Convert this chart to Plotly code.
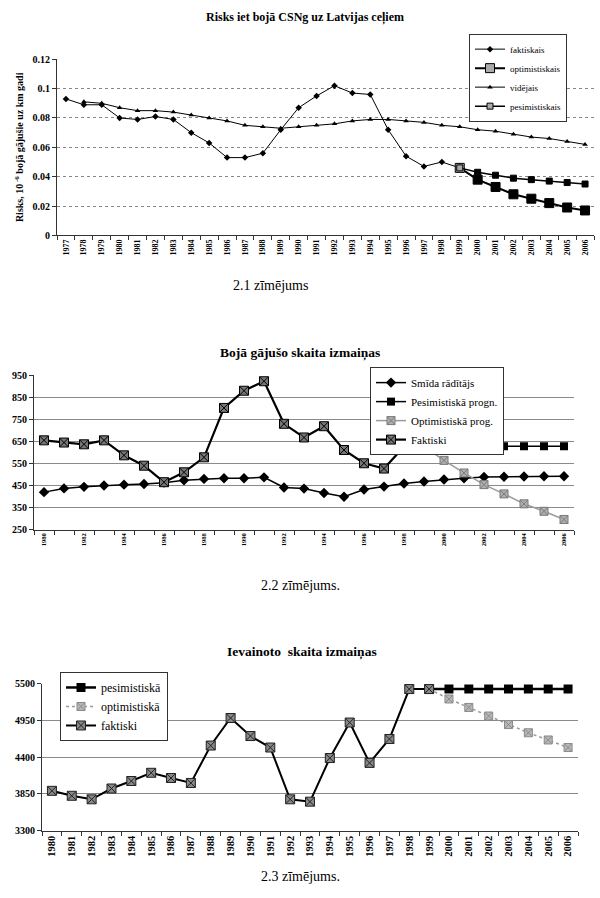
import plotly.graph_objects as go

# ---------------- Chart 1 data ----------------
years1 = [str(y) for y in range(1977, 2007)]
fakt1_years = [str(y) for y in range(1977, 2000)]
fakt1 = [0.093, 0.089, 0.089, 0.080, 0.079, 0.081, 0.079, 0.070, 0.063, 0.053,
         0.053, 0.056, 0.072, 0.087, 0.095, 0.102, 0.097, 0.096, 0.072, 0.054,
         0.047, 0.050, 0.046]
vid1_years = [str(y) for y in range(1978, 2007)]
vid1 = [0.091, 0.090, 0.087, 0.085, 0.085, 0.084, 0.082, 0.080, 0.078, 0.075,
        0.074, 0.073, 0.074, 0.075, 0.076, 0.078, 0.079, 0.079, 0.078, 0.077,
        0.075, 0.074, 0.072, 0.071, 0.069, 0.067, 0.066, 0.064, 0.062]
prog1_years = [str(y) for y in range(1999, 2007)]
pes1 = [0.046, 0.043, 0.041, 0.039, 0.038, 0.037, 0.036, 0.035]
opt1 = [0.046, 0.038, 0.033, 0.028, 0.025, 0.022, 0.019, 0.017]

# ---------------- Chart 2 data ----------------
years2 = [str(y) for y in range(1980, 2007)]
ticks2 = [y if int(y) % 2 == 0 else " " for y in years2]
smid2 = [420, 437, 444, 450, 454, 457, 463, 474, 480, 483, 483, 487, 441, 436,
         416, 399, 432, 445, 459, 468, 477, 483, 489, 490, 491, 492, 492]
fakt2_years = [str(y) for y in range(1980, 2000)]
fakt2 = [655, 645, 637, 655, 587, 540, 465, 510, 578, 802, 880, 923, 730, 668,
         719, 611, 551, 527, 626, 626]
prog2_years = [str(y) for y in range(1999, 2007)]
pes2 = [626, 627, 627, 628, 628, 628, 628, 628]
opt2 = [626, 564, 507, 454, 412, 367, 333, 296]

# ---------------- Chart 3 data ----------------
years3 = [str(y) for y in range(1980, 2007)]
fakt3_years = [str(y) for y in range(1980, 2000)]
fakt3 = [3894, 3820, 3767, 3929, 4041, 4164, 4086, 4012, 4572, 4984, 4714, 4542,
         3767, 3732, 4385, 4916, 4312, 4670, 5417, 5417]
prog3_years = [str(y) for y in range(1999, 2007)]
pes3 = [5417, 5417, 5417, 5417, 5417, 5417, 5417, 5417]
opt3 = [5417, 5269, 5142, 5014, 4886, 4763, 4655, 4542]

SERIF = "Liberation Serif"
H = 898.0
W = 600.0


def py(px):
    return 1 - px / H


def pxx(px):
    return px / W


fig = go.Figure()

# ----- Chart 1 traces -----
fig.add_trace(go.Scatter(x=fakt1_years, y=fakt1, name="faktiskais", mode="lines+markers",
                         line=dict(color="black", width=1),
                         marker=dict(symbol="diamond", size=5, color="black"),
                         xaxis="x", yaxis="y", legend="legend"))
fig.add_trace(go.Scatter(x=prog1_years, y=opt1, name="optimistiskais", mode="lines+markers",
                         line=dict(color="black", width=2),
                         marker=dict(symbol="square", size=9,
                                     color=["#aaaaaa"] + ["black"] * 7,
                                     line=dict(color="black", width=1)),
                         xaxis="x", yaxis="y", legend="legend"))
fig.add_trace(go.Scatter(x=vid1_years, y=vid1, name="vidējais", mode="lines+markers",
                         line=dict(color="black", width=1),
                         marker=dict(symbol="triangle-up", size=5, color="black"),
                         xaxis="x", yaxis="y", legend="legend"))
fig.add_trace(go.Scatter(x=prog1_years, y=pes1, name="pesimistiskais", mode="lines+markers",
                         line=dict(color="black", width=1.5),
                         marker=dict(symbol="square", size=6,
                                     color=["#aaaaaa"] + ["black"] * 7,
                                     line=dict(color="black", width=1)),
                         xaxis="x", yaxis="y", legend="legend"))

# ----- Chart 2 traces -----
fig.add_trace(go.Scatter(x=years2, y=smid2, name="Smīda rādītājs", mode="lines+markers",
                         line=dict(color="black", width=1.5),
                         marker=dict(symbol="diamond", size=8, color="black"),
                         xaxis="x2", yaxis="y2", legend="legend2"))
fig.add_trace(go.Scatter(x=prog2_years, y=pes2, name="Pesimistiskā progn.", mode="lines+markers",
                         line=dict(color="black", width=1.5),
                         marker=dict(symbol="square", size=8, color="black"),
                         xaxis="x2", yaxis="y2", legend="legend2"))
fig.add_trace(go.Scatter(x=prog2_years, y=opt2, name="Optimistiskā prog.", mode="lines+markers",
                         line=dict(color="#9a9a9a", width=1.5),
                         marker=dict(symbol="square-x", size=8, color="#b0b0b0",
                                     line=dict(color="#7a7a7a", width=1)),
                         xaxis="x2", yaxis="y2", legend="legend2"))
fig.add_trace(go.Scatter(x=fakt2_years, y=fakt2, name="Faktiski", mode="lines+markers",
                         line=dict(color="black", width=2.2),
                         marker=dict(symbol="square-x", size=9, color="#777777",
                                     line=dict(color="black", width=1)),
                         xaxis="x2", yaxis="y2", legend="legend2"))

# ----- Chart 3 traces -----
fig.add_trace(go.Scatter(x=prog3_years, y=pes3, name="pesimistiskā", mode="lines+markers",
                         line=dict(color="black", width=2.5),
                         marker=dict(symbol="square", size=9, color="black"),
                         xaxis="x3", yaxis="y3", legend="legend3"))
fig.add_trace(go.Scatter(x=prog3_years, y=opt3, name="optimistiskā", mode="lines+markers",
                         line=dict(color="#9a9a9a", width=1.5, dash="dot"),
                         marker=dict(symbol="square-x", size=8, color="#b8b8b8",
                                     line=dict(color="#8a8a8a", width=1)),
                         xaxis="x3", yaxis="y3", legend="legend3"))
fig.add_trace(go.Scatter(x=fakt3_years, y=fakt3, name="faktiski", mode="lines+markers",
                         line=dict(color="black", width=2),
                         marker=dict(symbol="square-x", size=9, color="#888888",
                                     line=dict(color="#222222", width=1)),
                         xaxis="x3", yaxis="y3", legend="legend3"))

axis_common = dict(showline=True, linecolor="#333333", linewidth=1, zeroline=False,
                   ticks="outside", ticklen=4, tickcolor="#333333")

legend_common = dict(bgcolor="white", bordercolor="#333333", borderwidth=1,
                     xanchor="left", yanchor="top", tracegroupgap=0,
                     itemwidth=30)

fig.update_layout(
    width=600, height=898, autosize=False,
    margin=dict(l=0, r=0, t=0, b=0),
    paper_bgcolor="white", plot_bgcolor="white",
    font=dict(family=SERIF, color="black"),
    # chart 1
    xaxis=dict(domain=[pxx(57), pxx(594)], anchor="y", type="category",
               categoryorder="array", categoryarray=years1,
               tickmode="array", tickvals=years1, ticktext=years1,
               tickson="boundaries", tickangle=-90, range=[-0.5, 29.5],
               tickfont=dict(family=SERIF, size=8, color="black", weight="bold"),
               showgrid=False, **axis_common),
    yaxis=dict(domain=[py(232.5), py(54)], anchor="x", range=[0, 0.12],
               tickvals=[0, 0.02, 0.04, 0.06, 0.08, 0.1, 0.12],
               ticktext=["0", "0.02", "0.04", "0.06", "0.08", "0.1", "0.12"],
               showgrid=True, gridcolor="#888888", griddash="dot", gridwidth=1,
               tickfont=dict(family=SERIF, size=10, color="black", weight="bold"),
               title=dict(text="Risks, 10<sup> -6</sup> bojā gājušie uz km gadi",
                          font=dict(family=SERIF, size=10, color="black", weight="bold"),
                          standoff=6),
               **axis_common),
    # chart 2
    xaxis2=dict(domain=[pxx(34), pxx(574)], anchor="y2", type="category",
                categoryorder="array", categoryarray=years2,
                tickmode="array", tickvals=years2, ticktext=ticks2,
                tickson="boundaries", tickangle=-90, range=[-0.5, 26.5],
                tickfont=dict(family=SERIF, size=6.5, color="black", weight="bold"),
                showgrid=False, **axis_common),
    yaxis2=dict(domain=[py(530.7), py(374.3)], anchor="x2", range=[250, 950],
                tickvals=[250, 350, 450, 550, 650, 750, 850, 950],
                showgrid=True, gridcolor="#8a8a8a", gridwidth=1.2,
                tickfont=dict(family=SERIF, size=10, color="black", weight="bold"),
                **axis_common),
    # chart 3
    xaxis3=dict(domain=[pxx(42), pxx(578)], anchor="y3", type="category",
                categoryorder="array", categoryarray=years3,
                tickmode="array", tickvals=years3, ticktext=years3,
                tickson="boundaries", tickangle=-90, range=[-0.5, 26.5],
                tickfont=dict(family=SERIF, size=10.5, color="black", weight="bold"),
                showgrid=False, **axis_common),
    yaxis3=dict(domain=[py(835.7), py(686.7)], anchor="x3", range=[3300, 5500],
                tickvals=[3300, 3850, 4400, 4950, 5500],
                showgrid=True, gridcolor="#8a8a8a", gridwidth=1.2,
                tickfont=dict(family=SERIF, size=10, color="black", weight="bold"),
                **axis_common),
    legend=dict(x=pxx(469), y=py(28), font=dict(family=SERIF, size=9, color="black"),
                **legend_common),
    legend2=dict(x=pxx(370), y=py(366), font=dict(family=SERIF, size=11, color="black"),
                 **legend_common),
    legend3=dict(x=pxx(60), y=py(675), font=dict(family=SERIF, size=12, color="black"),
                 **legend_common),
)

annots = [
    dict(text="<b>Risks iet bojā CSNg uz Latvijas ceļiem</b>", x=pxx(305), y=py(12), size=12),
    dict(text="2.1 zīmējums", x=pxx(270), y=py(283), size=14),
    dict(text="<b>Bojā gājušo skaita izmaiņas</b>", x=pxx(300), y=py(352), size=13.5),
    dict(text="2.2 zīmējums.", x=pxx(300), y=py(587), size=14),
    dict(text="<b>Ievainoto  skaita izmaiņas</b>", x=pxx(302), y=py(655), size=13.5),
    dict(text="2.3 zīmējums.", x=pxx(300), y=py(882), size=14),
]
for a in annots:
    fig.add_annotation(text=a["text"], x=a["x"], y=a["y"], xref="paper", yref="paper",
                       showarrow=False, xanchor="center", yanchor="middle",
                       font=dict(family=SERIF, size=a["size"], color="black"))

fig.write_html("out.html", config={"displayModeBar": False},
               post_script="document.body.style.margin='0px';document.body.style.overflow='hidden';")
